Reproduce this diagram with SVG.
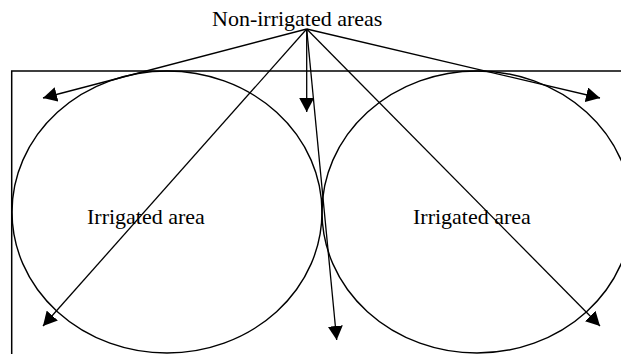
<svg xmlns="http://www.w3.org/2000/svg" width="621" height="354" viewBox="0 0 621 354">
  <style>
    .bg { fill: #ffffff; }
    .frame { fill: none; stroke: #000; stroke-width: 1.5; }
    .field { fill: none; stroke: #000; stroke-width: 1.4; }
    .conn { fill: none; stroke: #000; stroke-width: 1.3; marker-end: url(#arrow); }
    .label { font-family: "Liberation Serif", "Times New Roman", serif; font-size: 22px; fill: #000; }
  </style>
  <defs>
    <marker id="arrow" viewBox="0 0 14 15" refX="14" refY="7.5" markerWidth="14" markerHeight="15" markerUnits="userSpaceOnUse" orient="auto">
      <path d="M0,0 L14,7.5 L0,15 z" fill="#000"/>
    </marker>
  </defs>
  <rect class="bg" x="0" y="0" width="621" height="354"/>
  <g id="frame">
    <path class="frame" d="M11.7,354 L11.7,71 L621,71"/>
  </g>
  <g id="left-field">
    <ellipse class="field" cx="167" cy="212" rx="155" ry="141"/>
    <text class="label" x="87" y="224">Irrigated area</text>
  </g>
  <g id="right-field">
    <ellipse class="field" cx="477" cy="212" rx="155" ry="141"/>
    <text class="label" x="413" y="224">Irrigated area</text>
  </g>
  <g id="non-irrigated">
    <text class="label" x="212" y="25.5">Non-irrigated areas</text>
  </g>
  <g id="connectors">
    <path class="conn" d="M306.7,29 L43,98"/>
    <path class="conn" d="M306.7,29 L600,98"/>
    <path class="conn" d="M306.7,29 L306.7,112"/>
    <path class="conn" d="M306.7,29 L336.7,340"/>
    <path class="conn" d="M306.7,29 L43,326"/>
    <path class="conn" d="M306.7,29 L600,326"/>
  </g>
</svg>
